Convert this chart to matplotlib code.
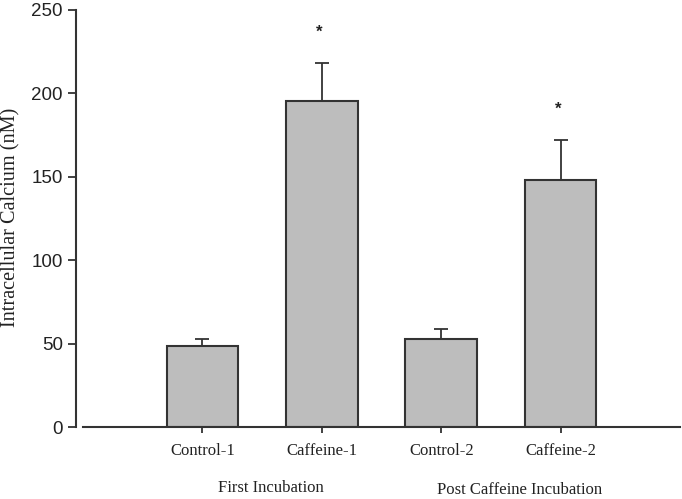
import matplotlib
matplotlib.use("Agg")
import matplotlib.pyplot as plt
import numpy as np

categories = ["Control-1", "Caffeine-1", "Control-2", "Caffeine-2"]
means = [48.5, 195.5, 53.0, 148.0]
errors = [4.3, 23.0, 5.5, 24.2]
significant = [False, True, False, True]
group_labels = ["First Incubation", "Post Caffeine Incubation"]
yticks = [0, 50, 100, 150, 200, 250]

plt.rcParams["font.family"] = ["Liberation Sans", "DejaVu Sans"]

fig = plt.figure(figsize=(6.82, 4.99), dpi=100)
W, H = 682, 499
ax = fig.add_axes([83 / W, (H - 427) / H, (680 - 83) / W, (427 - 10) / H])

x = np.arange(len(categories))
edge = "#333333"
ax.bar(x, means, width=0.6, color="#bdbdbd", edgecolor=edge, linewidth=1.5, zorder=2)
ax.errorbar(x, means, yerr=[np.zeros(len(means)), errors], fmt="none",
            ecolor=edge, elinewidth=1.3, capsize=5, capthick=1.3, zorder=1)

for xi, m, e, s in zip(x, means, errors, significant):
    if s:
        ax.text(xi - 0.02, m + e + 18, "*", ha="center", va="center",
                fontsize=12, fontweight="bold", family="Liberation Sans", color="#222222")

ax.set_xlim(-1, 4)
ax.set_ylim(0, 250)
ax.set_yticks(yticks)
ax.set_xticks(x)
ax.set_xticklabels(categories)

for side in ["top", "right"]:
    ax.spines[side].set_visible(False)
ax.spines["left"].set_position(("outward", 5))
for side in ["left", "bottom"]:
    ax.spines[side].set_color(edge)
    ax.spines[side].set_linewidth(1.5)

ax.tick_params(axis="y", length=5.5, width=1.3, color=edge, pad=4,
               labelsize=13.5, labelcolor="#222222")
ax.tick_params(axis="x", length=4.3, width=1.3, color=edge, pad=7,
               labelsize=12, labelcolor="#222222")
for lbl in ax.get_yticklabels():
    lbl.set_fontfamily("Liberation Sans")
for lbl in ax.get_xticklabels():
    lbl.set_fontfamily("Liberation Serif")

ax.set_ylabel("Intracellular Calcium (nM)", family="Liberation Serif", fontsize=14.6,
              color="#222222", va="center")
ax.yaxis.set_label_coords(-(83 - 11) / (680 - 83), (427 - 217) / (427 - 10))

fig.text(271 / W, 1 - 488 / H, group_labels[0], ha="center", va="center",
         family="Liberation Serif", fontsize=12, color="#222222")
fig.text(520 / W, 1 - 490 / H, group_labels[1], ha="center", va="center",
         family="Liberation Serif", fontsize=12, color="#222222")

fig.savefig("out.png", dpi=100)
